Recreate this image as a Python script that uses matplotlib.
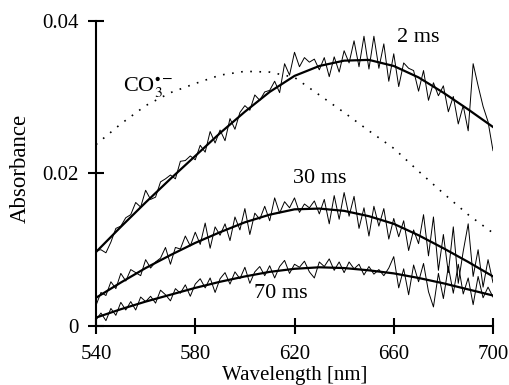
import numpy as np
import matplotlib.pyplot as plt

plt.rcParams['font.family'] = ['Liberation Serif', 'DejaVu Serif']
plt.rcParams['mathtext.fontset'] = 'stix'

# noisy traces, 540-700 nm every 2 nm, absorbance in units of 1e-3
wl = np.arange(540, 701, 2)
trace_2ms = [9.9, 10.0, 9.6, 11.0, 12.8, 13.1, 14.2, 14.6, 16.2, 15.6,
             17.8, 16.6, 16.9, 18.9, 19.3, 19.8, 19.3, 21.6, 21.7, 22.3,
             21.8, 23.7, 22.8, 25.5, 24.0, 25.7, 24.3, 27.2, 25.8, 28.0,
             28.9, 28.3, 30.3, 29.6, 30.7, 30.9, 32.1, 30.6, 34.4, 32.9,
             35.9, 34.0, 35.2, 34.6, 35.0, 33.6, 35.2, 32.7, 35.3, 33.3,
             36.1, 34.5, 37.4, 34.0, 38.0, 33.7, 38.0, 33.8, 37.0, 32.1,
             35.7, 31.4, 34.5, 33.8, 33.5, 30.8, 33.5, 29.6, 31.9, 30.2,
             31.5, 28.1, 30.1, 26.5, 28.9, 25.6, 34.4, 31.5, 28.8, 26.8,
             23.0]
trace_30ms = [2.7, 4.4, 4.0, 5.8, 4.9, 6.9, 5.9, 7.4, 7.0, 6.6,
              8.7, 7.6, 8.4, 8.9, 10.3, 8.1, 10.3, 10.1, 11.8, 10.5,
              12.3, 10.7, 13.5, 10.2, 13.0, 11.9, 13.4, 11.2, 14.3, 12.6,
              15.4, 12.0, 14.8, 14.0, 15.7, 13.8, 16.8, 14.8, 16.3, 15.5,
              16.8, 14.9, 16.0, 15.5, 16.4, 14.7, 16.6, 13.4, 17.1, 14.0,
              17.5, 14.4, 17.0, 12.8, 15.5, 11.8, 15.7, 13.1, 15.4, 11.4,
              14.1, 11.7, 13.8, 9.9, 12.6, 10.8, 14.6, 9.2, 14.3, 7.3,
              12.0, 7.0, 13.0, 5.6, 9.8, 13.4, 6.5, 10.0, 5.1, 8.7,
              5.7]
trace_70ms = [0.8, 1.7, 0.7, 2.3, 1.4, 3.1, 2.1, 3.2, 2.1, 3.8,
              3.2, 3.9, 3.0, 4.7, 4.1, 3.3, 4.9, 4.3, 5.4, 3.9,
              5.5, 6.2, 5.0, 6.3, 4.4, 6.2, 7.0, 5.5, 7.1, 6.2,
              7.7, 5.6, 7.1, 7.8, 6.6, 7.9, 6.3, 7.8, 8.6, 6.9,
              8.1, 7.7, 8.5, 7.1, 6.3, 8.4, 7.8, 8.8, 7.3, 8.4,
              7.0, 8.4, 7.5, 8.1, 6.7, 7.8, 6.8, 7.4, 6.6, 7.6,
              9.1, 5.0, 7.5, 4.1, 8.0, 5.8, 8.2, 4.5, 2.5, 6.9,
              3.6, 7.8, 4.3, 8.1, 4.2, 6.3, 2.8, 6.5, 3.7, 5.1,
              3.8]

# smooth fits and CO3 reference spectrum, every 10 nm
wl_fit = np.arange(540, 701, 10)
fit_2ms = [9.7, 13.0, 16.2, 19.3, 22.3, 25.3, 28.1, 30.7, 32.8, 34.1,
           34.8, 34.9, 34.1, 32.6, 30.6, 28.4, 26.1]
fit_30ms = [3.7, 5.7, 7.6, 9.3, 10.9, 12.3, 13.6, 14.6, 15.3, 15.4,
            15.1, 14.4, 13.4, 11.9, 10.2, 8.4, 6.5]
fit_70ms = [1.1, 2.2, 3.2, 4.1, 5.0, 5.8, 6.5, 7.1, 7.5, 7.7,
            7.6, 7.3, 6.9, 6.3, 5.6, 4.8, 4.0]
co3 = [23.8, 26.5, 28.9, 30.6, 31.8, 32.9, 33.4, 33.3, 32.6, 30.3,
       28.0, 25.6, 23.3, 20.3, 17.4, 14.6, 12.2]

scale = 1e-3

fig = plt.figure(figsize=(5.1, 3.85), dpi=100)
ax = fig.add_axes([96 / 510, 59 / 385, 397 / 510, 305 / 385])

for tr in (trace_2ms, trace_30ms, trace_70ms):
    ax.plot(wl, np.array(tr) * scale, color='black', lw=0.7,
            solid_joinstyle='round')
for ft in (fit_2ms, fit_30ms, fit_70ms):
    ax.plot(wl_fit, np.array(ft) * scale, color='black', lw=1.6,
            solid_joinstyle='round')
ax.plot(wl_fit, np.array(co3) * scale, color='black', lw=1.2,
        linestyle=(0, (1, 4.5)))

ax.text(670, 0.0378, '2 ms', fontsize=16, ha='center', va='center')
ax.text(630.3, 0.0193, '30 ms', fontsize=16, ha='center', va='center')
ax.text(614.6, 0.0043, '70 ms', fontsize=16, ha='center', va='center')
ax.text(561, 0.0312, r'CO$_3^{\bullet-}$', fontsize=16, ha='center',
        va='center')

ax.set_xlim(540, 700)
ax.set_ylim(0, 0.04)
ax.set_xticks([540, 580, 620, 660, 700])
ax.set_yticks([0, 0.02, 0.04])
ax.set_yticklabels(['0', '0.02', '0.04'])
for side in ('top', 'right'):
    ax.spines[side].set_visible(False)
for side in ('left', 'bottom'):
    ax.spines[side].set_linewidth(1.5)
ax.tick_params(direction='inout', length=11, width=1.5, labelsize=15)
ax.tick_params(axis='x', pad=8)
ax.tick_params(axis='y', pad=7)

ax.set_xlabel('Wavelength [nm]', fontsize=15)
ax.xaxis.set_label_coords(0.5, -0.162)
ax.xaxis.label.set_va('center')
ax.set_ylabel('Absorbance', fontsize=16.5)
ax.yaxis.set_label_coords(-0.19, 0.518)
ax.yaxis.label.set_va('center')

fig.savefig('out.png', dpi=100)
